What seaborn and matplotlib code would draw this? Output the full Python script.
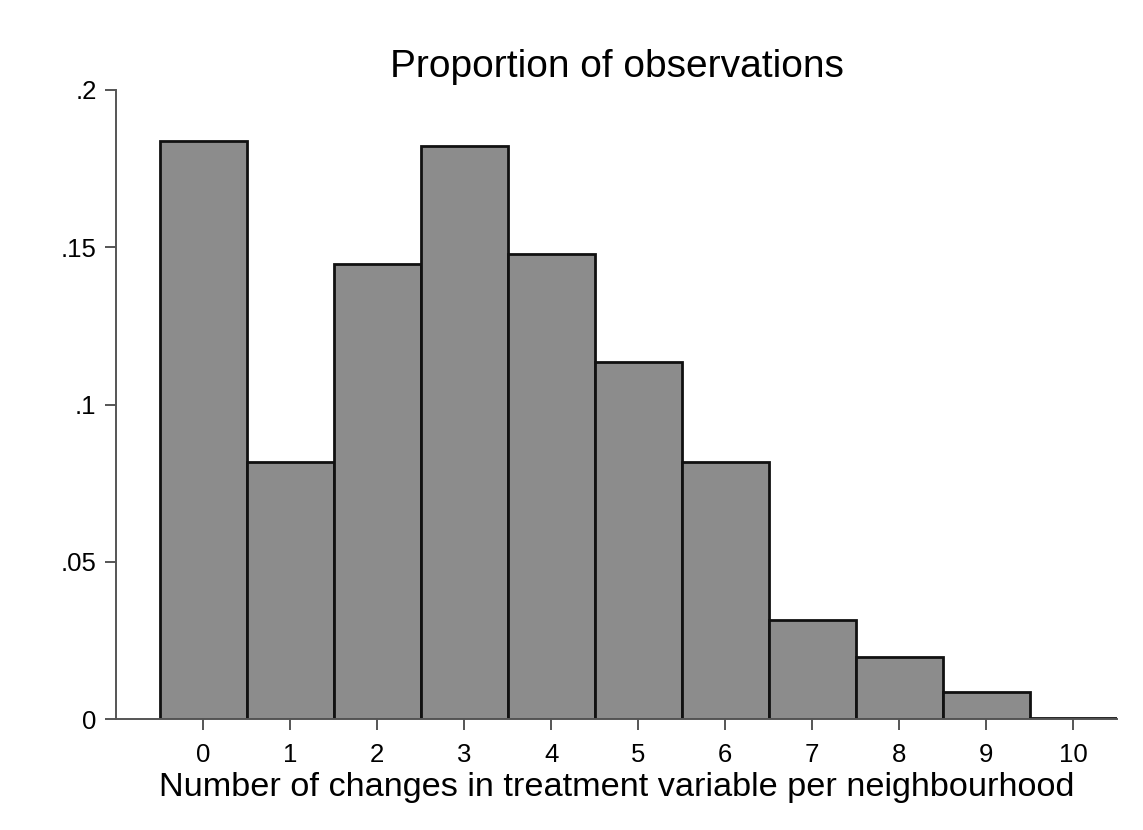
import matplotlib
matplotlib.use("Agg")
import matplotlib.pyplot as plt
import seaborn as sns
import pandas as pd

changes = [0, 1, 2, 3, 4, 5, 6, 7, 8, 9, 10]
proportions = [0.1838, 0.0817, 0.1447, 0.1822, 0.1479, 0.1135, 0.0817, 0.0315, 0.0197, 0.0086, 0.0004]
ytick_values = [0, 0.05, 0.1, 0.15, 0.2]
ytick_labels = ["0", ".05", ".1", ".15", ".2"]
title = "Proportion of observations"
xlabel = "Number of changes in treatment variable per neighbourhood"

sns.set_style("white")
plt.rcParams['font.family'] = ['Liberation Sans', 'DejaVu Sans']
plt.rcParams['text.color'] = 'black'
plt.rcParams['xtick.color'] = 'black'
plt.rcParams['ytick.color'] = 'black'

df = pd.DataFrame({"changes": changes, "proportion": proportions})

fig = plt.figure(figsize=(11.43, 8.30), dpi=100)
ax = fig.add_axes([0.1015, 0.1337, 0.8757, 0.7579])

sns.histplot(data=df, x="changes", weights="proportion", discrete=True,
             color="#8c8c8c", alpha=1, edgecolor="#111111", linewidth=2.0, ax=ax)

ax.set_xlim(-1, 10.5)
ax.set_ylim(0, 0.2)
ax.set_xticks(changes)
ax.set_xticklabels([str(c) for c in changes], fontsize=18.5)
ax.set_yticks(ytick_values)
ax.set_yticklabels(ytick_labels, fontsize=18.5)
ax.set_xlabel(xlabel, fontsize=24.7, labelpad=4, color="black")
ax.set_ylabel("")
ax.set_title(title, fontsize=28, pad=9, color="black")

for side in ["top", "right"]:
    ax.spines[side].set_visible(False)
for side in ["left", "bottom"]:
    ax.spines[side].set_color("#555555")
    ax.spines[side].set_linewidth(1.4)
ax.tick_params(axis="both", which="both", length=8, width=1.4, color="#555555",
               labelcolor="black", direction="out", left=True, bottom=True, pad=6)
ax.tick_params(axis="x", pad=9)

fig.savefig("out.png", dpi=100, facecolor="white")
